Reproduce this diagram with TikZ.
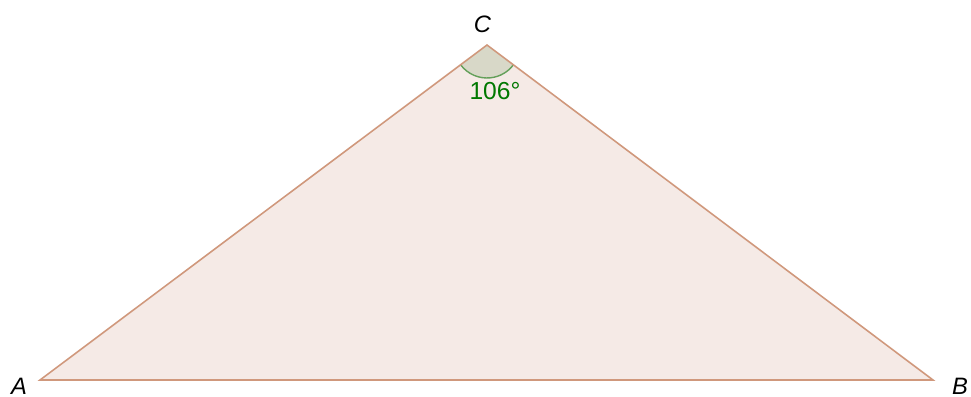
\documentclass[tikz,border=0pt]{standalone}
\usepackage{fontspec}
\setmainfont{Liberation Sans}
\definecolor{sideclr}{RGB}{208,152,124}
\definecolor{fillclr}{RGB}{245,234,230}
\definecolor{angfill}{RGB}{216,216,200}
\definecolor{angline}{RGB}{100,160,90}
\definecolor{angtext}{RGB}{0,120,0}
\tikzset{
  side/.style={color=sideclr, line width=0.9pt},
  vlabel/.style={font=\fontsize{13.5}{15}\selectfont\itshape, inner sep=0pt},
  anglabel/.style={font=\fontsize{14}{16}\selectfont, text=angtext, inner sep=0pt}
}
\begin{document}
\begin{tikzpicture}
  \useasboundingbox (0, 0) rectangle (19.42, 7.94);
  \coordinate (A) at (0.80, 0.34);
  \coordinate (B) at (18.66, 0.34);
  \coordinate (C) at (9.74, 7.04);
  % triangle face
  \fill[fillclr] (A) -- (B) -- (C) -- cycle;
  % angle at C
  \fill[angfill] (C) -- ++(216.8:0.66) arc (216.8:323.1:0.66) -- cycle;
  \draw[color=angline, line width=0.8pt] (C) ++(216.8:0.66) arc (216.8:323.1:0.66);
  \draw[side] (A) -- (B) -- (C) -- cycle;
  \node[vlabel] (labA) at (0.38, 0.22) {A};
  \node[vlabel] (labB) at (19.20, 0.22) {B};
  \node[vlabel] (labC) at (9.65, 7.45) {C};
  \node[anglabel] (ang) at (9.90, 6.11) {106°};
\end{tikzpicture}
\end{document}
